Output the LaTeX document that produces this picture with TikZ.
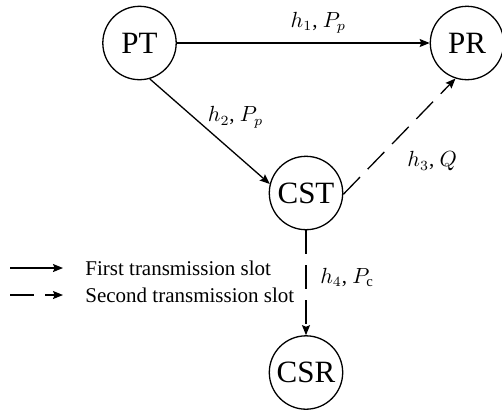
\documentclass[tikz,border=0pt]{standalone}
\usepackage{fontspec}
\setmainfont{Liberation Serif}
\usetikzlibrary{positioning,arrows.meta}
\tikzset{
  station/.style={circle, draw=black, line width=0.65pt, minimum size=36.7pt, inner sep=0pt,
    font=\fontsize{15.5}{17}\selectfont},
  first/.style={line width=0.65pt, draw=black, -{Stealth[length=5pt,width=4pt,inset=0.8pt]}},
  second/.style={first, dash pattern=on 12pt off 5.5pt},
  chan/.style={font=\fontsize{10.5}{12}\selectfont}
}

\begin{document}
\begin{tikzpicture}[x=0.5pt, y=-0.5pt]
    \useasboundingbox (0,0) rectangle (502,409);

    \node[station] (PT)  at (139.5,43) {PT};
    \node[station] (PR)  at (467,43)   {PR};
    \node[station] (CST) at (306,193)  {CST};
    \node[station] (CSR) at (306,372.5) {CSR};

    \draw[first]  (PT) -- node[chan, above, pos=0.56, yshift=1pt] {$h_1$, $P_p$} (PR);
    \draw[first]  (PT.-74) -- node[chan, pos=0.365, anchor=west, xshift=3.5pt] {$h_2$, $P_p$} (CST.166);
    \draw[second] (CST.-2) -- node[chan, pos=0.284, anchor=west, xshift=12.5pt] {$h_3$, $Q$} (PR.252);
    \draw[second] (CST) -- node[chan, pos=0.45, anchor=west, xshift=3.5pt] {$h_4$, $P_{\mathrm{c}}$} (CSR);

    % legend
    \coordinate (f0) at (10,268);
    \coordinate (f1) at (63,268);
    \coordinate (s0) at (10,295);
    \coordinate (s1) at (63,295);
    \node[chan, anchor=west, inner sep=0pt] (ftxt) at (85,268) {First transmission slot};
    \node[chan, anchor=west, inner sep=0pt] (stxt) at (85,295) {Second transmission slot};
    \draw[first]  (f0) -- (f1);
    \draw[second] (s0) -- (s1);

\end{tikzpicture}
\end{document}
